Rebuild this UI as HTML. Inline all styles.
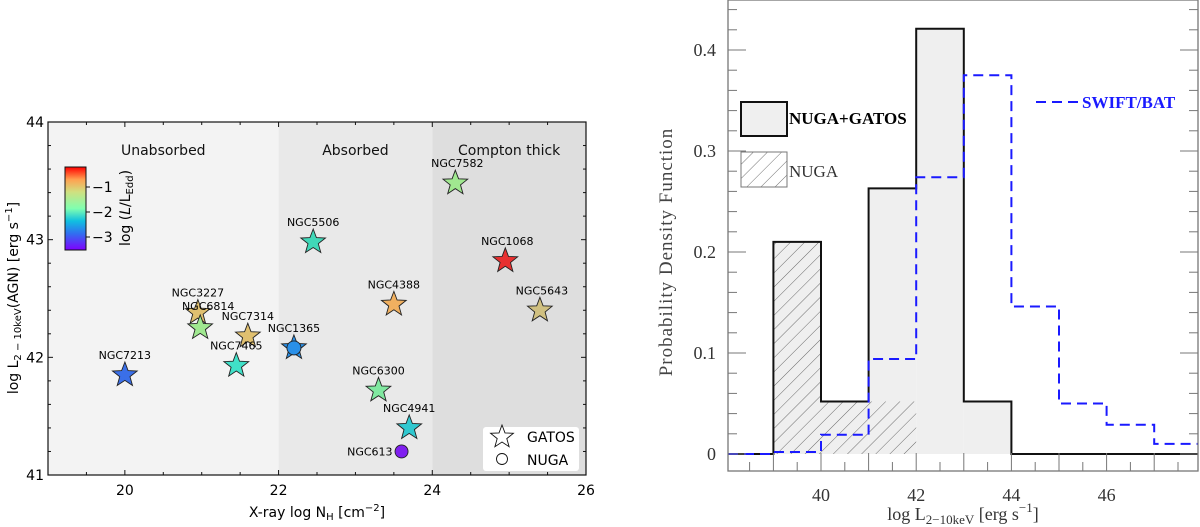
<!DOCTYPE html>
<html><head><meta charset="utf-8"><style>
html,body{margin:0;padding:0;background:#fff;}
svg{display:block;}
.s{font-family:"DejaVu Sans","Liberation Sans",sans-serif;}
.r{font-family:"Liberation Serif",serif;}
</style></head><body>
<svg id="svg" width="1200" height="527" viewBox="0 0 1200 527" xmlns="http://www.w3.org/2000/svg">
<defs>
<linearGradient id="rainbow" x1="0" y1="1" x2="0" y2="0">
<stop offset="0" stop-color="#7f00ff"/><stop offset="0.2" stop-color="#3070f0"/><stop offset="0.35" stop-color="#10c0e0"/><stop offset="0.5" stop-color="#80ffb0"/><stop offset="0.7" stop-color="#d0e080"/><stop offset="0.85" stop-color="#ffa050"/><stop offset="1" stop-color="#ff0000"/>
</linearGradient>
<pattern id="hatch" width="10" height="10" patternUnits="userSpaceOnUse" patternTransform="rotate(45)">
<line x1="0" y1="0" x2="0" y2="10" stroke="#333" stroke-width="0.7"/>
</pattern>
</defs>
<g id="left"></g>
<g id="right"></g>
</svg>
<script>
// ---- Left scatter data ----
const names = ["NGC7213","NGC3227","NGC6814","NGC7314","NGC7465","NGC1365","NGC5506","NGC4388","NGC6300","NGC4941","NGC7582","NGC1068","NGC5643","NGC613"];
const nh = [20.0,20.95,20.98,21.6,21.45,22.2,22.45,23.5,23.3,23.7,24.3,24.95,25.4,23.6];
const lx = [41.85,42.38,42.25,42.18,41.93,42.08,42.98,42.45,41.72,41.4,43.48,42.82,42.4,41.2];
const colors = ["#3a6fe8","#e0c070","#a0e890","#e0c070","#40e0c8","#2a90e8","#40d8b8","#f0b060","#80e8a0","#30c8d0","#a0e890","#e83030","#d0c080","#8020f0"];
const kinds = ["star","star","star","star","star","both","star","star","star","star","star","star","star","circle"];
const xTicksL = [20,22,24,26];
const yTicksL = [41,42,43,44];
const regions = [[19,22,"#f3f3f3","Unabsorbed"],[22,24,"#e9e9e9","Absorbed"],[24,26,"#dedede","Compton thick"]];
// ---- Right histogram data ----
const binEdges = [39,40,41,42,43,44];
const totalPdf = [0.21,0.052,0.263,0.421,0.052];
const nugaEdges = [39,40,41,42];
const nugaPdf = [0.21,0.052,0.052];
const batEdges = [38,39,40,41,42,43,44,45,46,47,48];
const batPdf = [0,0.002,0.019,0.094,0.274,0.375,0.146,0.05,0.029,0.01];
const xTicksR = [40,42,44,46];
const yTicksR = [0,0.1,0.2,0.3,0.4];

const NS="http://www.w3.org/2000/svg";
function mk(parent,tag,attrs,text){const e=document.createElementNS(NS,tag);for(const k in attrs)e.setAttribute(k,attrs[k]);if(text!==undefined)e.textContent=text;parent.appendChild(e);return e;}

// LEFT
const L=document.getElementById('left');
const X0=48,X1=586,Y0=122,Y1=475;
const xs=v=>X0+(v-19)/(26-19)*(X1-X0);
const ys=v=>Y1-(v-41)/(44-41)*(Y1-Y0);
regions.forEach(r=>{
  const g=mk(L,'rect',{x:xs(r[0]),y:Y0,width:xs(r[1])-xs(r[0]),height:Y1-Y0,fill:r[2]});
  
  
  const t=mk(L,'text',{x:(xs(r[0])+xs(r[1]))/2,y:155,'text-anchor':'middle','font-size':'14',class:'s',fill:'#111'},r[3]);
  
  
});
mk(L,'rect',{x:X0,y:Y0,width:X1-X0,height:Y1-Y0,fill:'none',stroke:'#111','stroke-width':1.2});
for(let v=19;v<=26.01;v+=0.5){const x=xs(v);const big=Math.abs(v-Math.round(v/2)*2)<0.01;mk(L,'line',{x1:x,x2:x,y1:Y1,y2:Y1-(big?5:3),stroke:'#111'});mk(L,'line',{x1:x,x2:x,y1:Y0,y2:Y0+(big?5:3),stroke:'#111'});}
for(let v=41;v<=44.01;v+=0.2){const y=ys(v);const big=Math.abs(v-Math.round(v))<0.01;mk(L,'line',{x1:X0,x2:X0+(big?5:3),y1:y,y2:y,stroke:'#111'});mk(L,'line',{x1:X1,x2:X1-(big?5:3),y1:y,y2:y,stroke:'#111'});}
xTicksL.forEach(v=>{const t=mk(L,'text',{x:xs(v),y:495,'text-anchor':'middle','font-size':'14',class:'s'},String(v));});
yTicksL.forEach(v=>{const t=mk(L,'text',{x:X0-4,y:ys(v)+5,'text-anchor':'end','font-size':'14',class:'s'},String(v));});
const xl=mk(L,'text',{x:317,y:517,'text-anchor':'middle','font-size':'14',class:'s'});
xl.innerHTML='X-ray log N<tspan font-size="10" dy="3">H</tspan><tspan dy="-3"> [cm</tspan><tspan font-size="10" dy="-6">−2</tspan><tspan dy="6">]</tspan>';

const yl=mk(L,'text',{transform:'translate(18,298) rotate(-90)','text-anchor':'middle','font-size':'14',class:'s'});
yl.innerHTML='log L<tspan font-size="10" dy="3">2 − 10keV</tspan><tspan dy="-3">(AGN) [erg s</tspan><tspan font-size="10" dy="-6">−1</tspan><tspan dy="6">]</tspan>';

function starPath(cx,cy,R){const r=R*0.42;let d='';for(let i=0;i<10;i++){const a=-Math.PI/2+i*Math.PI/5;const rr=i%2?r:R;d+=(i?'L':'M')+(cx+rr*Math.cos(a)).toFixed(1)+','+(cy+rr*Math.sin(a)).toFixed(1);}return d+'Z';}
names.forEach((n,i)=>{
  const cx=xs(nh[i]),cy=ys(lx[i]);
  if(kinds[i]!=='circle'){const p=mk(L,'path',{d:starPath(cx,cy,13),fill:colors[i],stroke:'#222','stroke-width':0.9});}
  if(kinds[i]!=='star'){const c=mk(L,'circle',{cx:cx,cy:cy,r:kinds[i]==='both'?7:6.5,fill:colors[i],stroke:'#222','stroke-width':0.9});}
  const t=kinds[i]==='circle'?mk(L,'text',{x:cx-9,y:cy+4,'text-anchor':'end','font-size':'11',class:'s'},n):mk(L,'text',{x:cx+(n==='NGC6814'?8:0)+(n==='NGC1068'||n==='NGC7582'||n==='NGC5643'?2:0),y:cy-16+(n==='NGC6814'?-2:0),'text-anchor':'middle','font-size':'11',class:'s'},n);
  
});
// colorbar
const cb=mk(L,'rect',{x:65,y:167,width:21,height:83,fill:'url(#rainbow)',stroke:'#111','stroke-width':1});

[[-1,187],[-2,212],[-3,237]].forEach(a=>{mk(L,'line',{x1:86,x2:90,y1:a[1],y2:a[1],stroke:'#111'});const t=mk(L,'text',{x:92,y:a[1]+5,'font-size':'14',class:'s'},'−'+(-a[0]));});
const ct=mk(L,'text',{transform:'translate(130,208) rotate(-90)','text-anchor':'middle','font-size':'14',class:'s'});
ct.innerHTML='log (<tspan font-style="italic">L</tspan>/L<tspan font-size="10" dy="3">Edd</tspan><tspan dy="-3">)</tspan>';

// legend
const lg=mk(L,'rect',{x:483,y:427,width:96,height:44,fill:'#fff',rx:3});

mk(L,'path',{d:starPath(502,437,12),fill:'#fff',stroke:'#111','stroke-width':0.9});
mk(L,'circle',{cx:502,cy:459,r:5.5,fill:'#fff',stroke:'#111','stroke-width':0.9});
const g1=mk(L,'text',{x:527,y:442,'font-size':'14',class:'s'},'GATOS');
const g2=mk(L,'text',{x:527,y:465,'font-size':'14',class:'s'},'NUGA');

// RIGHT
const R=document.getElementById('right');
const RX0=728,RX1=1198,RY0=0,RY1=471;
const xr=v=>821+(v-40)*47.6;
const yr=v=>454-v*1010;
for(let i=0;i<totalPdf.length;i++){const b=mk(R,'rect',{x:xr(binEdges[i]),y:yr(totalPdf[i]),width:xr(binEdges[i+1])-xr(binEdges[i]),height:yr(0)-yr(totalPdf[i]),fill:'#efefef'});}
for(let i=0;i<nugaPdf.length;i++){const b=mk(R,'rect',{x:xr(nugaEdges[i]),y:yr(nugaPdf[i]),width:xr(nugaEdges[i+1])-xr(nugaEdges[i]),height:yr(0)-yr(nugaPdf[i]),fill:'url(#hatch)'});}
let d='M'+RX0+','+yr(0)+' L'+xr(binEdges[0])+','+yr(0);
for(let i=0;i<totalPdf.length;i++){d+=' L'+xr(binEdges[i])+','+yr(totalPdf[i])+' L'+xr(binEdges[i+1])+','+yr(totalPdf[i]);}
d+=' L'+xr(binEdges[binEdges.length-1])+','+yr(0)+' L'+RX1+','+yr(0);
const ol=mk(R,'path',{d:d,fill:'none',stroke:'#111','stroke-width':2});
let db='M'+RX0+','+yr(batPdf[0]);
for(let i=0;i<batPdf.length;i++){db+=' L'+Math.max(RX0,xr(batEdges[i]))+','+yr(batPdf[i])+' L'+Math.min(RX1,xr(batEdges[i+1]))+','+yr(batPdf[i]);}
const bl=mk(R,'path',{d:db,fill:'none',stroke:'#1a1aff','stroke-width':2,'stroke-dasharray':'10,6'});
mk(R,'rect',{x:RX0,y:RY0,width:RX1-RX0,height:RY1-RY0,fill:'none',stroke:'#777','stroke-width':1.3});
for(let v=38.5;v<=47.6;v+=0.5){const x=xr(v);const big=Math.abs(v-Math.round(v))<0.01;mk(R,'line',{x1:x,x2:x,y1:RY1,y2:RY1-(big?18:9),stroke:'#777'});}
for(let v=0;v<=0.46;v+=0.02){const y=yr(v);const big=Math.abs(v*10-Math.round(v*10))<0.01;mk(R,'line',{x1:RX0,x2:RX0+(big?18:9),y1:y,y2:y,stroke:'#777'});mk(R,'line',{x1:RX1,x2:RX1-(big?18:9),y1:y,y2:y,stroke:'#777'});}
xTicksR.forEach(v=>{const t=mk(R,'text',{x:xr(v),y:501,'text-anchor':'middle','font-size':'18',class:'r',fill:'#333'},String(v));});
yTicksR.forEach(v=>{const t=mk(R,'text',{x:716,y:yr(v)+6,'text-anchor':'end','font-size':'18',class:'r',fill:'#333'},v===0?'0':v.toFixed(1));});
const rxl=mk(R,'text',{x:963,y:520,'text-anchor':'middle','font-size':'18',class:'r',fill:'#333'});
rxl.innerHTML='log  L<tspan font-size="13" dy="4">2−10keV</tspan><tspan dy="-4"> [erg  s</tspan><tspan font-size="13" dy="-8">−1</tspan><tspan dy="8">]</tspan>';

const ryl=mk(R,'text',{transform:'translate(672,252) rotate(-90)','text-anchor':'middle','font-size':'19',class:'r',fill:'#444','letter-spacing':'1'},'Probability Density Function');

const l1=mk(R,'rect',{x:741,y:102,width:46,height:34,fill:'#efefef',stroke:'#111','stroke-width':2});
const t1=mk(R,'text',{x:789,y:124,'font-size':'17','font-weight':'bold',class:'r'},'NUGA+GATOS');
const l2=mk(R,'rect',{x:741,y:152,width:46,height:35,fill:'url(#hatch)',stroke:'#777','stroke-width':1});
const t2=mk(R,'text',{x:789,y:177,'font-size':'17',class:'r',fill:'#333'},'NUGA');
mk(R,'line',{x1:1036,x2:1082,y1:102,y2:102,stroke:'#1a1aff','stroke-width':2,'stroke-dasharray':'10,6'});
const t3=mk(R,'text',{x:1082,y:108,'font-size':'17','font-weight':'bold',class:'r',fill:'#1a1aff'},'SWIFT/BAT');
</script>
</body></html>
